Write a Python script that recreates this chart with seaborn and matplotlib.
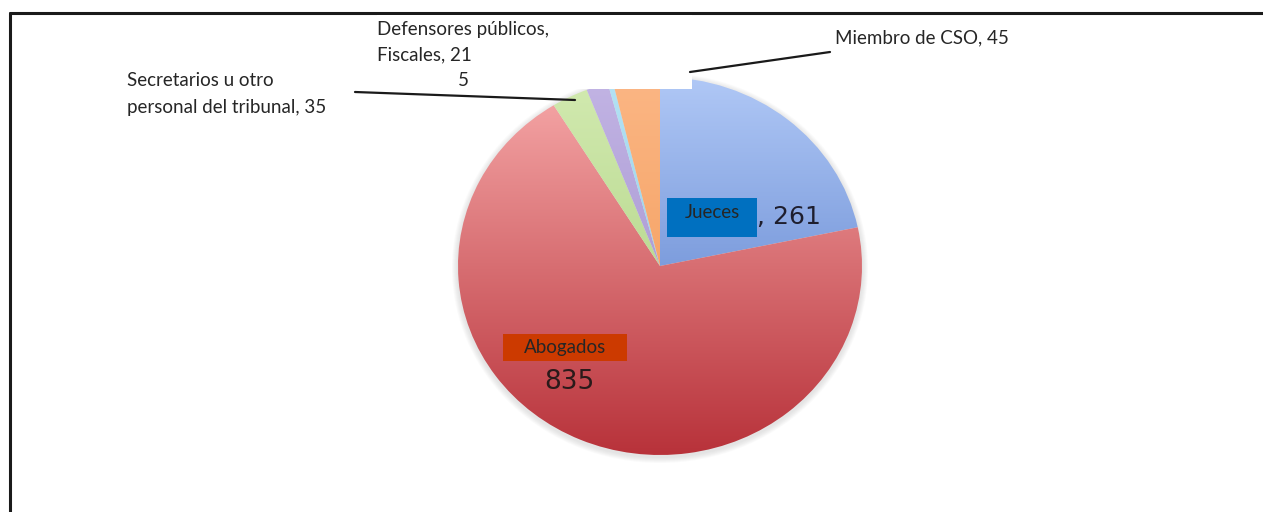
import numpy as np
import matplotlib
matplotlib.use('Agg')
import matplotlib.pyplot as plt
import seaborn as sns
from matplotlib.colors import LinearSegmentedColormap
from matplotlib.patches import Rectangle, Ellipse

sns.set_style('white')
plt.rcParams['font.family'] = ['Lato', 'DejaVu Sans']

categories = ['Jueces', 'Abogados', 'Secretarios u otro personal del tribunal',
              'Defensores públicos', 'Fiscales', 'Miembro de CSO']
values = [261, 835, 35, 21, 5, 45]
# (top colour, bottom colour) for the vertical gradient of each slice
gradients = [('#b0c8f6', '#4a72c4'),
             ('#f7aaaa', '#b8323a'),
             ('#d2eab0', '#a6cc78'),
             ('#c2b4e4', '#9a88c8'),
             ('#b4e2f4', '#86c4e2'),
             ('#fbb684', '#f29650')]

W, H = 1263, 512
fig = plt.figure(figsize=(W / 100, H / 100), dpi=100)

# background axes in pixel coordinates
bg = fig.add_axes([0, 0, 1, 1])
bg.set_xlim(0, W)
bg.set_ylim(H, 0)
bg.axis('off')
bg.plot([10, W], [13, 13], color='#1a1a1a', lw=2.2)
bg.plot([10, 10], [13, H], color='#1a1a1a', lw=2.2)

cx, cy, rx, ry = 660, 266, 202, 189
# soft shadow around the pie
for k in range(6, 0, -1):
    bg.add_patch(Ellipse((cx, cy + 2), 2 * rx + k * 2, 2 * ry + k * 2,
                         facecolor='#808080', edgecolor='none', alpha=0.035))

# pie axes spanning the (slightly elliptical) pie
pie_ax = fig.add_axes([(cx - rx) / W, 1 - (cy + ry) / H, 2 * rx / W, 2 * ry / H])
wedges, _ = pie_ax.pie(values, startangle=90, counterclock=False, radius=1,
                       wedgeprops=dict(linewidth=0))
pie_ax.set_aspect('auto')
pie_ax.set_xlim(-1, 1)
pie_ax.set_ylim(-1, 1)
pie_ax.axis('off')

grad = np.linspace(1, 0, 256).reshape(-1, 1)
for w, (top, bottom) in zip(wedges, gradients):
    w.set_facecolor('none')
    cmap = LinearSegmentedColormap.from_list('g', [bottom, top])
    im = pie_ax.imshow(grad, cmap=cmap, extent=(-1, 1, -1, 1), aspect='auto',
                       origin='upper', vmin=0, vmax=1, zorder=1)
    im.set_clip_path(w)

# overlay axes for labels and leader lines
ov = fig.add_axes([0, 0, 1, 1])
ov.set_xlim(0, W)
ov.set_ylim(H, 0)
ov.axis('off')

ov.plot([355, 575], [92, 100], color='#1a1a1a', lw=1.6)
ov.plot([830, 690], [52, 72], color='#1a1a1a', lw=1.6)

fs = 13.5
ov.add_patch(Rectangle((377, 15), 315, 74, facecolor='white', edgecolor='none'))
ov.text(377, 30, 'Defensores públicos,', fontsize=fs, va='center', ha='left')
ov.text(377, 55, 'Fiscales, 21', fontsize=fs, va='center', ha='left')
ov.text(463, 80, '5', fontsize=fs, va='center', ha='center')

ov.text(127, 80, 'Secretarios u otro', fontsize=fs, va='center', ha='left')
ov.text(127, 107, 'personal del tribunal, 35', fontsize=fs, va='center', ha='left')
ov.text(835, 38, 'Miembro de CSO, 45', fontsize=fs, va='center', ha='left')

ov.add_patch(Rectangle((667, 198), 90, 39, facecolor='#0070c0', edgecolor='none'))
ov.text(712, 213, 'Jueces', fontsize=fs, va='center', ha='center')
ov.text(757, 217, ', 261', fontsize=18, va='center', ha='left', color='#1e1e2e',
        family='DejaVu Sans')

ov.add_patch(Rectangle((503, 334), 124, 27, facecolor='#cc3a00', edgecolor='none'))
ov.text(565, 347, 'Abogados', fontsize=fs, va='center', ha='center')
ov.text(569, 382, '835', fontsize=19, va='center', ha='center', color='#2a1a1a',
        family='DejaVu Sans')

fig.savefig('out.png', dpi=100)
